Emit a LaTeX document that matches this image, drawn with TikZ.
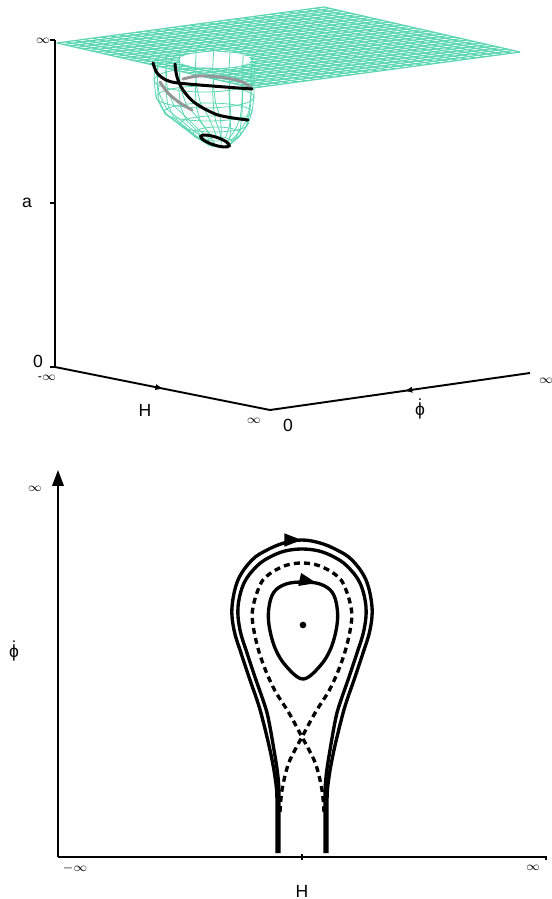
\documentclass[tikz,border=0pt]{standalone}
\usepackage{amsmath}
\usepackage{fontspec}
\setmainfont{Liberation Sans}
\usetikzlibrary{arrows.meta,calc,decorations.markings}
\definecolor{meshc}{RGB}{90,215,175}
\definecolor{trajgrey}{RGB}{150,150,150}
\newcommand{\phidot}{$\dot{\text{ϕ}}$}

\begin{document}
\begin{tikzpicture}[x=0.02cm, y=-0.02cm,
  axis/.style={line width=1.1pt},
  mesh/.style={meshc, line width=0.7pt},
  pitline/.style={meshc, line width=0.45pt},
  traj/.style={line width=1.7pt, line cap=round},
  trajg/.style={traj, trajgrey},
  orbit/.style={line width=1.9pt},
  sep/.style={orbit, dash pattern=on 3.4pt off 2.4pt},
  midarr/.style={postaction={decorate}, decoration={markings,
      mark=at position #1 with {\arrow{Triangle[length=10pt,width=7pt]}}}},
  smallarr/.style={postaction={decorate}, decoration={markings,
      mark=at position #1 with {\arrow{Triangle[length=4pt,width=3pt]}}}},
  lab/.style={font=\fontsize{10}{12}\selectfont, inner sep=0pt},
  inf/.style={font=\fontsize{7}{8}\selectfont, inner sep=0pt},
  dot/.style={circle, fill, inner sep=0pt, minimum size=3.8pt}]
\useasboundingbox (0,0) rectangle (551,899);

% upper panel: surface a(H, phi dot)
\coordinate (pA) at (57,43);
\coordinate (pB) at (253,88);
\coordinate (pC) at (520,52);
\coordinate (pD) at (324,7);
\foreach \i in {0,...,30}{
  \draw[mesh] ($(pA)!\i/30!(pB)$) -- ($(pD)!\i/30!(pC)$);
  \draw[mesh] ($(pA)!\i/30!(pD)$) -- ($(pB)!\i/30!(pC)$);
}
\fill[white] (215,60) ellipse [x radius=36, y radius=8];

% the pit
\foreach \cx/\cy/\rx/\ry in {204/80/50/12, 205/97/49/11, 208/112/44/9,
    214/124/34/8, 217/134/24/7, 219/142/13/5}
  \draw[pitline] (\cx,\cy) ellipse [x radius=\rx, y radius=\ry];
\foreach \t in {0,20,...,340}{
  \draw[pitline] ({205+50*cos(\t)},{62+12*sin(\t)}) -- ({204+50*cos(\t)},{80+12*sin(\t)})
    -- ({205+49*cos(\t)},{97+11*sin(\t)}) -- ({208+44*cos(\t)},{112+9*sin(\t)})
    -- ({214+34*cos(\t)},{124+8*sin(\t)}) -- ({217+24*cos(\t)},{134+7*sin(\t)})
    -- ({219+13*cos(\t)},{142+5*sin(\t)});
}

% trajectories
\draw[trajg] plot[smooth] coordinates {(252,88) (240,81) (220,77) (198,76) (183,79)};
\draw[trajg] plot[smooth] coordinates {(160,82) (168,93) (180,103) (192,110)};
\draw[traj] plot[smooth] coordinates {(153,63) (157,73) (166,80) (178,83) (212,86) (252,89)};
\draw[traj] plot[smooth] coordinates {(175,64) (177,77) (183,90) (195,103) (218,115) (248,120)};
\coordinate (bot) at (215,141);
\draw[traj, rotate around={-18:(bot)}] (bot) ellipse [x radius=15, y radius=4];

% axes
\coordinate (vtop) at (55,40);
\coordinate (vbot) at (55,367);
\coordinate (hend) at (270,410);
\coordinate (pend) at (530,373);
\draw[axis] (vtop) -- (vbot);
\draw[axis, smallarr=0.5] (vbot) -- (hend);
\draw[axis, smallarr=0.48] (pend) -- (hend);
\draw[axis] (vtop) -- ++(-5,0);
\draw[axis] (55,203) -- ++(-5,0);
\draw[axis] (vbot) -- ++(-5,0);

\node[inf] (atop) at (43,41) {$\infty$};
\node[lab] (alab) at (27,203) {a};
\node[lab] (azero) at (38,361) {0};
\node[inf] (hmin) at (47,378) {-$\infty$};
\node[lab] (hlab) at (145,410) {H};
\node[inf] (hmax) at (254,421) {$\infty$};
\node[lab] (pzero) at (288,425) {0};
\node[lab] (plab) at (420,409) {\phidot};
\node[inf] (pmax) at (546,381) {$\infty$};

% lower panel: phase plane
\coordinate (org) at (58,857);
\coordinate (ytop) at (58,470);
\coordinate (xend) at (546,857);
\draw[axis, -{Triangle[length=9pt,width=6.5pt]}] (org) -- (ytop);
\draw[axis] (org) -- (xend) -- ++(0,3);
\draw[axis] (302,854) -- (302,860);

\draw[orbit, midarr=0.5] plot[smooth, tension=0.6] coordinates {
  (277,853) (277,800) (275,777) (270,750) (262,717) (257,700) (250,680) (241,653)
  (234,630) (232,607) (238,580) (252,560) (267,550) (284,543) (302,540)
  (320,543) (337,550) (352,560) (366,580) (372,607) (370,630) (363,653) (354,680)
  (347,700) (342,717) (334,750) (329,777) (327,800) (327,853)};
\draw[orbit] plot[smooth, tension=0.6] coordinates {
  (279,853) (279,800) (278,777) (274,750) (268,717) (263,700) (256,680) (247,653)
  (240,630) (238,607) (244,583) (257,566) (270,557) (285,551) (302,549)
  (319,551) (334,557) (347,566) (360,583) (366,607) (364,630) (357,653) (348,680)
  (341,700) (336,717) (330,750) (326,777) (325,800) (325,853)};
\draw[sep] plot[smooth, tension=0.6] coordinates {
  (280,812) (282,790) (288,765) (296,748) (302,737) (315,713) (331,687) (344,655)
  (351,625) (351,607) (344,585) (337,576) (326.5,569) (315,564.5) (302,563)
  (289,564.5) (277.5,569) (267,576) (260,585) (253,607) (253,625) (260,655)
  (273,687) (289,713) (302,737) (308,748) (316,765) (322,790) (324,812)};
\draw[orbit, midarr=0.47] plot[smooth cycle, tension=0.6] coordinates {
  (303,679) (286,666) (275,648) (269,625) (269,607) (274,592) (286,584) (303,582)
  (320,584) (332,592) (337,607) (337,625) (331,648) (320,666)};
\node[dot] (eq) at (303,625) {};

\node[inf] (yinf) at (35,489) {$\infty$};
\node[lab] (ylab) at (14,651) {\phidot};
\node[inf] (xmin) at (75,868) {$-\infty$};
\node[inf] (xmax) at (533,868) {$\infty$};
\node[lab] (xlab) at (302,891) {H};
\end{tikzpicture}
\end{document}
